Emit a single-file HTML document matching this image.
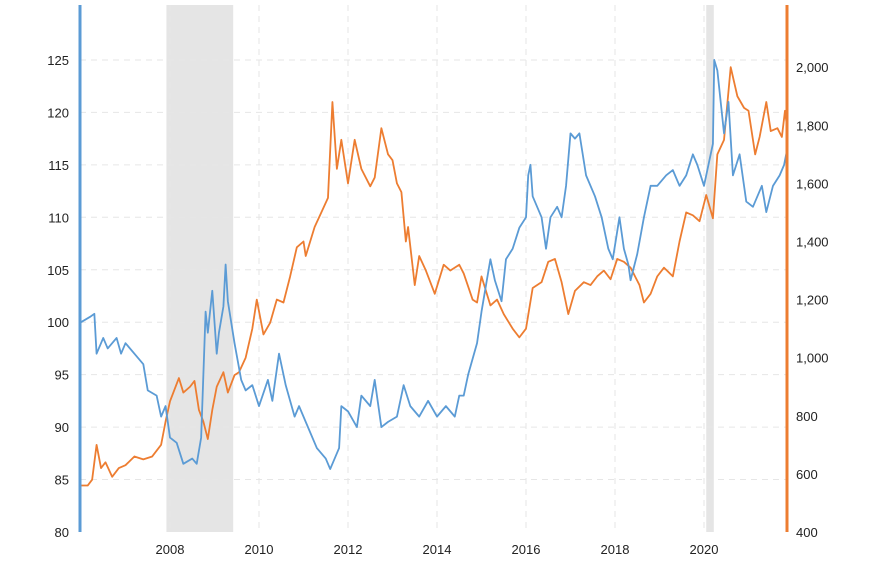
<!DOCTYPE html>
<html><head><meta charset="utf-8"><style>
body{margin:0;background:#fff;font-family:"Liberation Sans",sans-serif}
svg text{font-family:"Liberation Sans",sans-serif;font-size:13px;fill:#222}
</style></head><body>
<svg id="chart" width="888" height="560" xmlns="http://www.w3.org/2000/svg">
<g id="bg"></g><g id="grid"></g><g id="series"></g><g id="axes"></g>
</svg>
<script>
const blueYears=[2006.0,2006.2,2006.3,2006.35,2006.5,2006.6,2006.8,2006.9,2007.0,2007.2,2007.4,2007.5,2007.7,2007.8,2007.9,2008.0,2008.15,2008.3,2008.5,2008.6,2008.7,2008.75,2008.8,2008.85,2008.95,2009.05,2009.1,2009.2,2009.25,2009.3,2009.45,2009.6,2009.7,2009.85,2010.0,2010.2,2010.3,2010.4,2010.45,2010.6,2010.8,2010.9,2011.1,2011.3,2011.5,2011.6,2011.8,2011.85,2012.0,2012.2,2012.3,2012.5,2012.6,2012.75,2012.9,2013.1,2013.25,2013.4,2013.6,2013.8,2014.0,2014.2,2014.4,2014.5,2014.6,2014.7,2014.9,2015.0,2015.2,2015.3,2015.45,2015.55,2015.7,2015.85,2016.0,2016.05,2016.1,2016.15,2016.35,2016.45,2016.55,2016.7,2016.8,2016.9,2017.0,2017.1,2017.2,2017.35,2017.55,2017.7,2017.85,2017.95,2018.1,2018.2,2018.3,2018.35,2018.5,2018.65,2018.8,2018.95,2019.15,2019.3,2019.45,2019.6,2019.75,2019.85,2020.0,2020.1,2020.2,2020.23,2020.3,2020.45,2020.55,2020.65,2020.8,2020.95,2021.1,2021.3,2021.4,2021.55,2021.7,2021.8,2021.87];
const blueValues=[100,100.5,100.8,97,98.5,97.5,98.5,97,98,97,96,93.5,93,91,92,89,88.5,86.5,87,86.5,89,95,101,99,103,97,99,101.5,105.5,102,98,94.5,93.5,94,92,94.5,92.5,95.5,97,94,91,92,90,88,87,86,88,92,91.5,90,93,92,94.5,90,90.5,91,94,92,91,92.5,91,92,91,93,93,95,98,101,106,104,102,106,107,109,110,114,115,112,110,107,110,111,110,113,118,117.5,118,114,112,110,107,106,110,107,105.5,104,106.5,110,113,113,114,114.5,113,114,116,115,113,115,117,125,124,118,121,114,116,111.5,111,113,110.5,113,114,115,116.5];
const goldYears=[2006.0,2006.15,2006.25,2006.35,2006.45,2006.55,2006.7,2006.85,2007.0,2007.2,2007.4,2007.6,2007.8,2007.9,2008.0,2008.2,2008.3,2008.45,2008.55,2008.65,2008.75,2008.85,2008.95,2009.05,2009.2,2009.3,2009.45,2009.55,2009.7,2009.85,2009.95,2010.1,2010.25,2010.4,2010.55,2010.7,2010.85,2011.0,2011.05,2011.25,2011.4,2011.55,2011.65,2011.75,2011.85,2012.0,2012.15,2012.3,2012.5,2012.6,2012.75,2012.9,2013.0,2013.1,2013.2,2013.3,2013.35,2013.5,2013.6,2013.75,2013.95,2014.15,2014.3,2014.5,2014.6,2014.8,2014.9,2015.0,2015.2,2015.35,2015.5,2015.7,2015.85,2016.0,2016.15,2016.35,2016.5,2016.65,2016.8,2016.95,2017.1,2017.3,2017.45,2017.6,2017.75,2017.9,2018.05,2018.2,2018.35,2018.55,2018.65,2018.8,2018.95,2019.1,2019.3,2019.45,2019.6,2019.75,2019.9,2020.05,2020.2,2020.3,2020.45,2020.6,2020.75,2020.9,2021.0,2021.15,2021.25,2021.4,2021.5,2021.65,2021.75,2021.82,2021.87];
const goldValues=[560,560,580,700,620,640,590,620,630,660,650,660,700,780,850,930,880,900,920,820,780,720,820,900,950,880,940,950,1000,1100,1200,1080,1120,1200,1190,1280,1380,1400,1350,1450,1500,1550,1880,1650,1750,1600,1750,1650,1590,1620,1790,1700,1680,1600,1570,1400,1450,1250,1350,1300,1220,1320,1300,1320,1290,1200,1190,1280,1180,1200,1150,1100,1070,1100,1240,1260,1330,1340,1260,1150,1230,1260,1250,1280,1300,1270,1340,1330,1310,1250,1190,1220,1280,1310,1280,1400,1500,1490,1470,1560,1480,1700,1750,2000,1900,1860,1850,1700,1760,1880,1780,1790,1760,1850,1790];
const leftTicks=[80,85,90,95,100,105,110,115,120,125];
const rightTicks=[400,600,800,1000,1200,1400,1600,1800,2000];
const xTicks=[2008,2010,2012,2014,2016,2018,2020];
const recessions=[[2007.92,2009.42],[2020.05,2020.22]];

const NS="http://www.w3.org/2000/svg";
const X=y=>81+(y-2006)*44.5;
const YL=v=>532-(v-80)*10.49;
const YR=v=>532-(v-400)*0.2905;
function mk(t,p,a){const e=document.createElementNS(NS,t);for(const k in a)e.setAttribute(k,a[k]);p.appendChild(e);return e;}
const bg=document.getElementById('bg'),grid=document.getElementById('grid'),ser=document.getElementById('series'),ax=document.getElementById('axes');
recessions.forEach(r=>{const e=mk('rect',bg,{x:X(r[0]),y:5,width:X(r[1])-X(r[0]),height:527,fill:'#e5e5e5'});

});
leftTicks.forEach(v=>{if(v>80){const l=mk('line',grid,{x1:80,x2:787,y1:YL(v),y2:YL(v),stroke:'#e6e6e6','stroke-dasharray':'6,5'});

}
const t=mk('text',ax,{x:69,y:YL(v)+5,'text-anchor':'end'});t.textContent=v;

});
rightTicks.forEach(v=>{const t=mk('text',ax,{x:796,y:YR(v)+5});t.textContent=v.toLocaleString('en-US');

});
xTicks.forEach(v=>{const l=mk('line',grid,{x1:X(v),x2:X(v),y1:5,y2:532,stroke:'#e6e6e6','stroke-dasharray':'6,5'});


const t=mk('text',ax,{x:X(v),y:554,'text-anchor':'middle'});t.textContent=v;

});
const gp=mk('polyline',ser,{fill:'none',stroke:'#ed7d31','stroke-width':1.8,'stroke-linejoin':'round',points:goldYears.map((y,i)=>X(y)+','+YR(goldValues[i])).join(' ')});


const bp=mk('polyline',ser,{fill:'none',stroke:'#5b9bd5','stroke-width':1.8,'stroke-linejoin':'round',points:blueYears.map((y,i)=>X(y)+','+YL(blueValues[i])).join(' ')});


const la=mk('line',ax,{x1:80,x2:80,y1:5,y2:532,stroke:'#5b9bd5','stroke-width':3});


const ra=mk('line',ax,{x1:787,x2:787,y1:5,y2:532,stroke:'#ed7d31','stroke-width':3});


</script>
</body></html>
